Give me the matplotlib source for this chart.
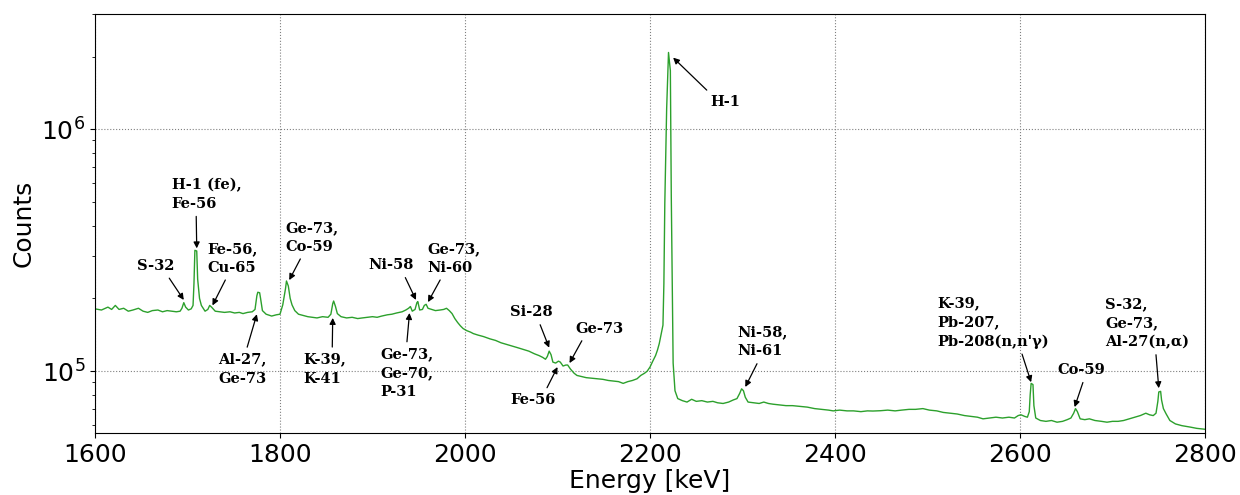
#! /usr/bin/env python
import numpy as np
import matplotlib
matplotlib.use("Agg")
import matplotlib.pyplot as plt

# spectrum: energy in keV, counts in thousands
energy_kev = [
    1600, 1607, 1614, 1618, 1622, 1626, 1631, 1636, 1641, 1647, 1652, 1657,
    1662, 1668, 1673, 1678, 1683, 1688, 1692, 1694, 1696, 1698, 1701, 1704,
    1706, 1707, 1708, 1710, 1711, 1713, 1715, 1719, 1722, 1724, 1726, 1730,
    1735, 1740, 1746, 1751, 1756, 1760, 1765, 1770, 1773, 1775, 1776, 1778,
    1779, 1781, 1785, 1791, 1796, 1800, 1803, 1806, 1807, 1809, 1811, 1813,
    1816, 1820, 1825, 1830, 1835, 1840, 1846, 1852, 1855, 1857, 1858, 1860,
    1862, 1866, 1872, 1878, 1884, 1889, 1895, 1900, 1905, 1910, 1916, 1921,
    1926, 1932, 1936, 1939, 1941, 1943, 1946, 1948, 1949, 1951, 1954, 1956,
    1958, 1960, 1964, 1968, 1973, 1977, 1980, 1983, 1986, 1989, 1992, 1995,
    1998, 2002, 2006, 2009, 2014, 2020, 2027, 2033, 2039, 2045, 2051, 2057,
    2063, 2069, 2075, 2080, 2084, 2087, 2089, 2091, 2093, 2095, 2098, 2101,
    2103, 2106, 2109, 2111, 2114, 2118, 2121, 2126, 2131, 2137, 2143, 2149,
    2155, 2160, 2166, 2171, 2176, 2181, 2186, 2190, 2194, 2197, 2200, 2203,
    2206, 2208, 2210, 2212, 2214, 2215, 2216, 2218, 2220, 2222, 2223, 2225,
    2227, 2230, 2235, 2240, 2245, 2250, 2256, 2262, 2268, 2273, 2279, 2285,
    2290, 2294, 2297, 2299, 2301, 2303, 2306, 2312, 2318, 2323, 2328, 2333,
    2340, 2347, 2354, 2362, 2370, 2378, 2386, 2393, 2398, 2405, 2413, 2420,
    2428, 2435, 2441, 2449, 2457, 2465, 2472, 2480, 2487, 2495, 2502, 2510,
    2517, 2525, 2532, 2540, 2547, 2554, 2560, 2567, 2574, 2581, 2588, 2594,
    2598, 2601, 2605, 2608, 2610, 2611, 2612, 2614, 2615, 2617, 2622, 2628,
    2634, 2640, 2646, 2651, 2655, 2658, 2660, 2662, 2665, 2670, 2675, 2681,
    2688, 2694, 2700, 2706, 2712, 2718, 2724, 2730, 2736, 2740, 2744, 2747,
    2749, 2750, 2752, 2753, 2755, 2758, 2762, 2768, 2775, 2784, 2791, 2800,
]
counts_k = [
    181, 179, 184, 180, 187, 180, 182, 177, 179, 182, 177, 175,
    178, 179, 176, 178, 177, 176, 177, 182, 192, 184, 179, 181,
    187, 230, 316, 314, 240, 200, 187, 177, 180, 187, 184, 177,
    176, 175, 176, 174, 175, 173, 175, 176, 180, 205, 212, 211,
    200, 178, 172, 169, 171, 172, 188, 220, 236, 225, 200, 188,
    178, 172, 170, 168, 167, 166, 168, 167, 172, 190, 195, 185,
    173, 168, 166, 167, 165, 166, 167, 168, 167, 169, 171, 172,
    174, 176, 179, 182, 185, 177, 180, 192, 194, 179, 180, 187,
    189, 182, 180, 178, 179, 180, 182, 178, 173, 165, 159, 154,
    150, 147, 145, 143, 141, 139, 136, 134, 131, 129, 127, 125,
    123, 121, 118, 116, 114, 112, 115, 121, 117, 109, 108, 110,
    109, 105, 106, 106, 102, 98, 96, 95, 94, 93.5, 93, 92.5,
    91.5, 91, 90.5, 89, 90.5, 91.5, 93, 96, 98, 100, 104, 110,
    116, 122, 130, 142, 155, 230, 495, 1220, 2080, 1750, 530, 108,
    83, 77, 75.5, 74.5, 76.5, 75, 75.5, 74.5, 75, 74, 73.5, 74.5,
    76, 77, 81, 84.5, 83, 78, 74.5, 74, 73.5, 74.5, 73.5, 73,
    72.5, 72, 72, 71.5, 71, 70, 69.5, 69, 68.5, 69, 68.5, 68.5,
    68, 68.5, 68.4, 68.6, 69, 68.5, 69, 69.5, 69.5, 70, 69, 68.5,
    67.5, 67, 66.5, 65.5, 65, 64.5, 63.5, 64, 64.5, 64, 64.5, 64,
    65.5, 66, 65, 64.5, 68, 80, 89, 88, 72, 64, 62.5, 62,
    62.5, 61.5, 62, 63, 64, 67, 70, 68, 63.5, 63, 63.5, 62.5,
    62, 61.5, 62, 62, 62.5, 63.5, 64.5, 65.5, 67, 66, 65.5, 67,
    75, 82, 82.5, 76, 70, 66.5, 62.5, 60.5, 59.5, 58.7, 58, 57.5,
]

# label, text (keV, counts), arrow tip (keV, counts), arrow start on text box
labels = [
    ("S-32", (1645, 2.72e5), (1696, 1.97e5), (0.78, 0)),
    ("H-1 (fe),\nFe-56", (1683, 5.39e5), (1710, 3.22e5), (0.35, 0)),
    ("Fe-56,\nCu-65", (1722, 2.93e5), (1727, 1.87e5), (0.4, 0)),
    ("Ge-73,\nCo-59", (1806, 3.58e5), (1810, 2.38e5), (0.33, 0)),
    ("Al-27,\nGe-73", (1733, 1.02e5), (1775, 1.72e5), (0.57, 1)),
    ("K-39,\nK-41", (1825, 1.02e5), (1857, 1.66e5), (0.68, 1)),
    ("Ni-58", (1895, 2.74e5), (1947, 1.97e5), (0.77, 0)),
    ("Ge-73,\nNi-60", (1959, 2.93e5), (1960, 1.93e5), (0.3, 0)),
    ("Ge-73,\nGe-70,\nP-31", (1908, 0.98e5), (1940, 1.74e5), (0.5, 1)),
    ("Si-28", (2049, 1.75e5), (2091, 1.25e5), (0.65, 0)),
    ("Fe-56", (2049, 0.76e5), (2100, 1.04e5), (0.75, 1)),
    ("Ge-73", (2119, 1.5e5), (2113, 1.08e5), (0.2, 0)),
    ("H-1", (2265, 1.3e6), (2225, 1.98e6), (0.05, 1)),
    ("Ni-58,\nNi-61", (2294, 1.32e5), (2303, 0.86e5), (0.45, 0)),
    ("K-39,\nPb-207,\nPb-208(n,n'\u03b3)", (2511, 1.59e5), (2612, 0.90e5), (0.74, 0)),
    ("Co-59", (2640, 1.01e5), (2659, 0.71e5), (0.58, 0)),
    ("S-32,\nGe-73,\nAl-27(n,\u03b1)", (2692, 1.58e5), (2750, 0.85e5), (0.6, 0)),
]


def main():
    fig = plt.figure(figsize=(12.4, 4.95), dpi=100)
    ax = fig.add_axes([0.0766, 0.1253, 0.8952, 0.8464])

    ax.plot(energy_kev, np.array(counts_k) * 1000, color='#2ca02c', lw=1.0)
    ax.set_yscale('log')
    ax.set_xlim(1600, 2800)
    ax.set_ylim(5.55e4, 3.0e6)

    ax.grid(True, which='major', linestyle=':', color='gray', lw=0.8)
    ax.set_xlabel('Energy [keV]', fontsize=18, labelpad=2)
    ax.set_ylabel('Counts', fontsize=18)
    ax.tick_params(axis='both', which='major', labelsize=18)

    for text, xytext, xy, rp in labels:
        ax.annotate(text, xy=xy, xytext=xytext, ha='left', va='center',
                    fontsize=10.5, fontweight='bold', family='DejaVu Serif',
                    linespacing=1.45,
                    arrowprops=dict(arrowstyle='-|>', color='black', lw=0.9,
                                    mutation_scale=9, relpos=rp,
                                    shrinkA=2, shrinkB=0))

    fig.savefig('out.png', dpi=100)


if __name__ == "__main__":
    main()
